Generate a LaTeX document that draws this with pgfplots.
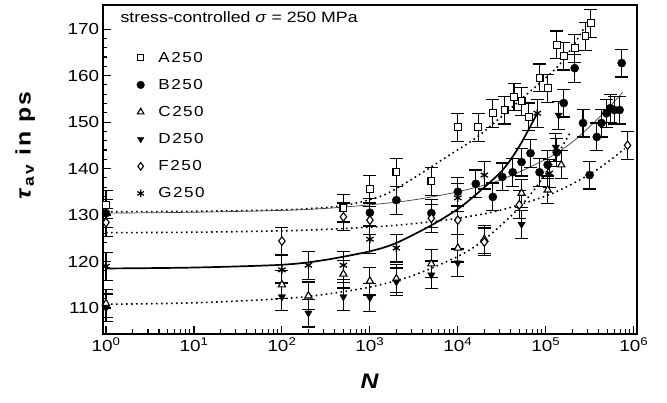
\documentclass[border=0pt]{standalone}
\usepackage{fontspec}
\setmainfont{Liberation Sans}[FakeStretch=1.18]
\newfontfamily\legfont{Liberation Sans}[FakeStretch=1.18, LetterSpace=10]
\usepackage{pgfplots}
\pgfplotsset{compat=1.18}
\pgfplotsset{
  eb/.style={error bars/.cd, y dir=both, y fixed=3,
    error bar style={line width=1.1pt,black},
    error mark options={rotate=90,mark size=6.5pt,line width=1.1pt,black}},
  dotc/.style={black, line width=1.6pt, dash pattern=on 1.6pt off 3.4pt, smooth, no marks},
}
\begin{document}
\begin{tikzpicture}
\begin{axis}[
  scale only axis, width=534pt, height=329pt,
  xmode=log, xmin=0.917, xmax=1.08e6, ymin=104.4, ymax=175.2,
  axis line style={line width=1.8pt},
  tick align=inside, xtick pos=left, ytick pos=left,
  major tick length=8pt, minor tick length=4.5pt,
  every tick/.style={black, line width=1.1pt},
  xtick={1,10,100,1000,10000,100000,1000000},
  xticklabels={10\textsuperscript{0},10\textsuperscript{1},10\textsuperscript{2},10\textsuperscript{3},10\textsuperscript{4},10\textsuperscript{5},10\textsuperscript{6}},
  minor xtick={2,3,4,5,6,7,8,9,20,30,40,50,60,70,80,90,200,300,400,500,600,700,800,900,2000,3000,4000,5000,6000,7000,8000,9000,20000,30000,40000,50000,60000,70000,80000,90000,200000,300000,400000,500000,600000,700000,800000,900000},
  ytick={110,120,130,140,150,160,170}, minor y tick num=4,
  /pgf/number format/assume math mode=true,
  tick label style={font=\fontsize{16}{19}\selectfont},
  xlabel={\textbf{\textit{N}}},
  xlabel style={font=\fontsize{21}{24}\selectfont, at={(rel axis cs:0.5,0)}, yshift=-37pt, anchor=north},
  ylabel={\legfont\textbf{\textit{τ}\textsubscript{av} in ps}},
  ylabel style={font=\fontsize{21}{24}\selectfont, at={(rel axis cs:-0.145,0.576)}, anchor=center},
  legend style={draw=none, fill=none, font=\fontsize{14.5}{17}\selectfont\legfont, at={(rel axis cs:0.058,0.870)}, anchor=north west, row sep=11.5pt},
  legend cell align=left,
]
% legend entries
\addlegendimage{only marks, mark=square*, mark size=3pt, mark options={fill=white, line width=1.1pt}}
\addlegendentry{\hspace{12pt}A250}
\addlegendimage{only marks, mark=*, mark size=3.8pt}
\addlegendentry{\hspace{12pt}B250}
\addlegendimage{only marks, mark=triangle*, mark size=3.8pt, mark options={fill=white, line width=1.1pt}}
\addlegendentry{\hspace{12pt}C250}
\addlegendimage{only marks, mark=triangle*, mark size=3.8pt, mark options={rotate=180}}
\addlegendentry{\hspace{12pt}D250}
\addlegendimage{only marks, mark=diamond*, mark size=3.8pt, mark options={fill=white, line width=1.1pt}}
\addlegendentry{\hspace{12pt}F250}
\addlegendimage{only marks, mark=asterisk, mark size=3.8pt, mark options={line width=1.2pt}}
\addlegendentry{\hspace{12pt}G250}

% fit curves
\addplot[dotc, forget plot] table {
1 130.7
10 130.8
100 131.1
300 131.6
600 132.3
1400 134.2
3000 137.7
8000 142.9
17700 147.2
50000 154.6
145000 162.5
280000 170.6
};
\addplot[black!75, line width=0.7pt, smooth, no marks, forget plot] table {
1 130.4
10 130.6
100 131.0
300 131.4
1000 132.2
3000 133.2
10000 135.0
30000 137.5
100000 142.0
200000 145.7
400000 150.9
750000 156.4
};
\addplot[black, line width=1.7pt, smooth, no marks, forget plot] table {
1 118.5
10 118.7
100 119.3
300 120.3
1000 122.2
2000 124.0
5000 127.8
10000 131.3
16500 134.6
32000 139.6
50000 144.8
80000 151.9
};
\addplot[dotc, forget plot] table {
1 126.2
10 126.3
100 126.6
300 126.9
1000 127.4
3000 128.1
10000 129.3
30000 131.0
100000 134.1
200000 136.7
400000 140.0
790000 144.3
};
\addplot[dotc, forget plot] table {
1 110.8
10 111.1
100 112.0
300 112.9
1000 114.5
3000 116.9
10000 121.1
20000 124.7
50000 131.6
100000 138.9
190000 147.8
};

% data
\addplot[forget plot, only marks, mark=square*, mark size=3.4pt, mark options={fill=white, line width=1.1pt}, eb] table {
1 132.2
500 131.5
1000 135.6
2000 139.2
5000 137.3
10000 148.9
17000 148.9
25000 151.9
34000 152.6
43500 155.4
53000 154.5
64000 151.1
85000 159.5
105000 157.3
133000 166.6
160000 164.2
213000 165.9
283000 168.5
325000 171.3
};
\addplot[forget plot, only marks, mark=*, mark size=4.1pt, eb] table {
1 130.4
1000 130.5
2000 133.2
5000 130.4
10000 135.0
16000 136.7
25000 133.9
32000 138.2
42000 139.2
53000 141.4
67000 143.3
85000 139.2
105000 140.8
133000 143.5
160000 154.1
213000 161.6
265000 149.8
315000 138.6
380000 146.8
430000 149.8
490000 151.9
540000 153.0
600000 152.6
690000 152.6
730000 162.7
};
\addplot[forget plot, only marks, mark=triangle*, mark size=4.2pt, mark options={fill=white, line width=1.1pt}, eb] table {
1 111.0
100 115.0
200 112.6
500 117.3
1000 115.8
2000 116.3
5000 119.5
10000 122.9
20000 124.8
53000 134.7
105000 135.4
150000 140.8
};
\addplot[forget plot, only marks, mark=triangle*, mark size=4.2pt, mark options={rotate=180}, eb] table {
1 110.0
100 112.4
200 108.9
500 112.4
1000 112.2
2000 115.6
5000 117.1
10000 119.7
20000 124.2
53000 128.0
130000 144.6
140000 151.5
};
\addplot[forget plot, only marks, mark=diamond*, mark size=4.3pt, mark options={fill=white, line width=1.1pt}, eb] table {
1 128.4
100 124.4
500 129.6
1000 128.9
5000 129.3
10000 128.9
20000 124.2
50000 132.2
850000 145.0
};
\addplot[forget plot, only marks, mark=asterisk, mark size=4.2pt, mark options={line width=1.3pt}, eb] table {
1 119.0
100 118.2
200 119.2
500 119.2
1000 124.8
2000 122.9
10000 133.7
20000 138.6
80000 151.9
110000 139.0
};
\node[anchor=west, font=\fontsize{15}{18}\selectfont] at (rel axis cs:0.027,0.962) {stress-controlled \textit{σ} = 250 MPa};
\end{axis}
\pgfresetboundingbox
\useasboundingbox (-102.7pt,-69pt) rectangle (564.3pt,334pt);
\end{tikzpicture}
\end{document}
